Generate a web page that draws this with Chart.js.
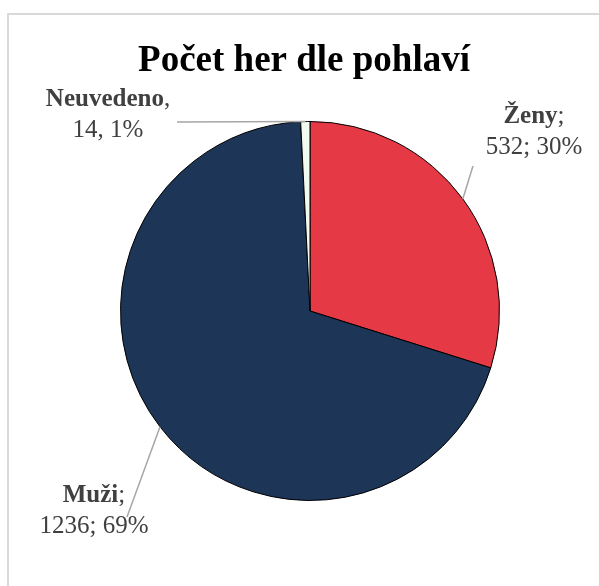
<!DOCTYPE html>
<html>
<head>
<meta charset="utf-8">
<script src="https://cdn.jsdelivr.net/npm/chart.js@4"></script>
<style>
  html, body { margin: 0; padding: 0; background: #fff; }
  canvas { display: block; }
</style>
</head>
<body>
<canvas id="chartPohlavi" width="599" height="586"></canvas>
<script>
// data
const kategorie = ['Ženy', 'Muži', 'Neuvedeno'];
const pocty = [532, 1236, 14];
const procenta = ['30%', '69%', '1%'];
const oddelovace = [';', ';', ','];
const barvy = ['#E63946', '#1D3557', '#F1FAEE'];

// kde stoji popisky (konec vodici cary + stred textu)
const popisky = [
    { kotva: [473, 166], x: 534, y: 123 },
    { kotva: [127, 517], x: 94, y: 502 },
    { kotva: [177, 122], x: 108, y: 106 }
];

const FONT = '"Liberation Serif", "Times New Roman", serif';

const ramecek = {
    id: 'ramecek',
    beforeDraw(chart) {
        const c = chart.ctx;
        c.save();
        c.fillStyle = '#fff';
        c.fillRect(0, 0, chart.width, chart.height);
        c.strokeStyle = '#D9D9D9';
        c.lineWidth = 2;
        c.beginPath();
        c.moveTo(8, chart.height + 5);
        c.lineTo(8, 14);
        c.lineTo(chart.width + 5, 14);
        c.stroke();
        // titulek
        c.fillStyle = '#000';
        c.font = 'bold 37px ' + FONT;
        c.textAlign = 'center';
        c.textBaseline = 'alphabetic';
        c.fillText('Počet her dle pohlaví', 304, 71);
        c.restore();
    }
};

const popiskyPlugin = {
    id: 'popisky',
    afterDraw(chart) {
        const c = chart.ctx;
        const meta = chart.getDatasetMeta(0);
        c.save();
        meta.data.forEach((arc, i) => {
            const p = arc.getProps(['x', 'y', 'startAngle', 'endAngle', 'outerRadius'], true);
            const mid = (p.startAngle + p.endAngle) / 2;
            const ex = p.x + Math.cos(mid) * p.outerRadius;
            const ey = p.y + Math.sin(mid) * p.outerRadius;
            const pop = popisky[i];

            c.strokeStyle = '#A6A6A6';
            c.lineWidth = 1.5;
            c.beginPath();
            c.moveTo(ex, ey);
            c.lineTo(pop.kotva[0], pop.kotva[1]);
            c.stroke();

            c.fillStyle = '#404040';
            c.textBaseline = 'alphabetic';
            const jmeno = kategorie[i];
            const sep = oddelovace[i];
            c.font = 'bold 25px ' + FONT;
            const w1 = c.measureText(jmeno).width;
            c.font = '25px ' + FONT;
            const w2 = c.measureText(sep).width;
            const x0 = pop.x - (w1 + w2) / 2;
            c.textAlign = 'left';
            c.font = 'bold 25px ' + FONT;
            c.fillText(jmeno, x0, pop.y);
            c.font = '25px ' + FONT;
            c.fillText(sep, x0 + w1, pop.y);
            c.textAlign = 'center';
            c.fillText(pocty[i] + sep + ' ' + procenta[i], pop.x, pop.y + 31);
        });
        c.restore();
    }
};

new Chart(document.getElementById('chartPohlavi'), {
    type: 'pie',
    data: {
        labels: kategorie,
        datasets: [{
            data: pocty,
            backgroundColor: barvy,
            borderColor: '#000000',
            borderWidth: 1
        }]
    },
    options: {
        responsive: false,
        animation: false,
        devicePixelRatio: 1,
        layout: { padding: { left: 120, right: 99, top: 121, bottom: 85 } },
        plugins: {
            legend: { display: false },
            tooltip: { enabled: false },
            title: { display: false }
        }
    },
    plugins: [ramecek, popiskyPlugin]
});
</script>
</body>
</html>
